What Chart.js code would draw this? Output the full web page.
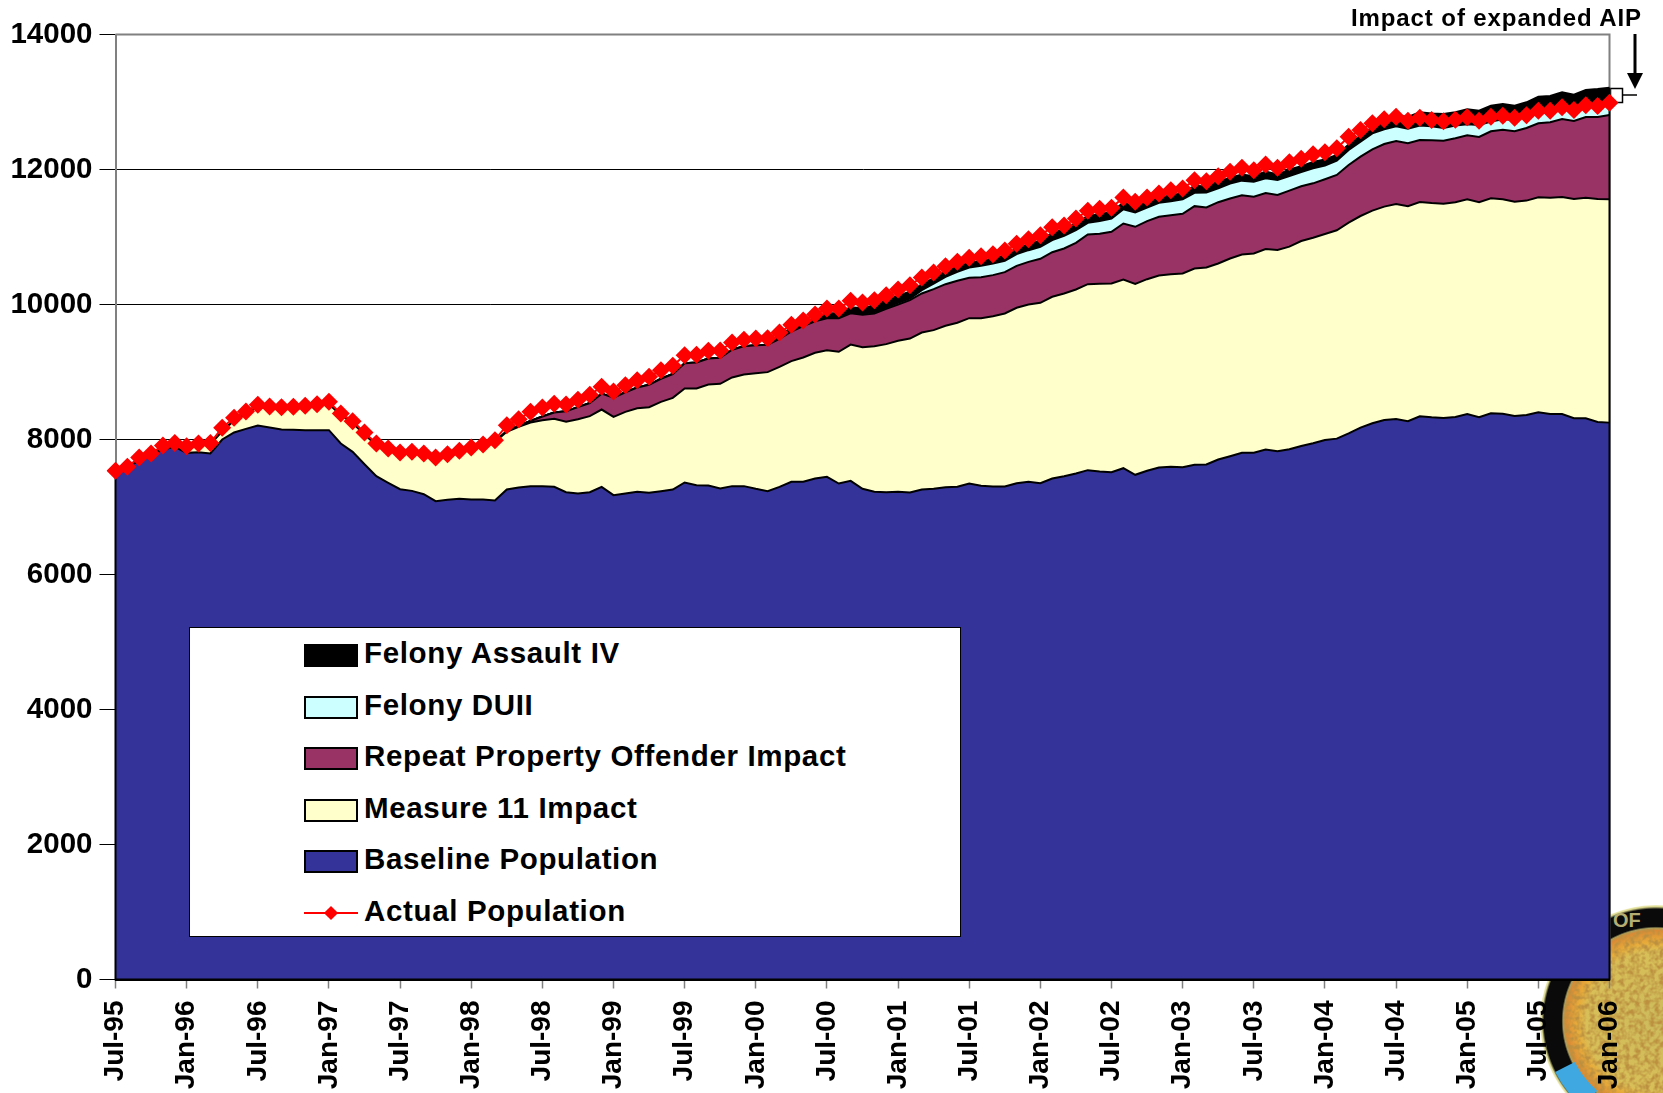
<!DOCTYPE html>
<html>
<head>
<meta charset="utf-8">
<title>Prison population</title>
<script src="https://cdn.jsdelivr.net/npm/chart.js@4"></script>
<style>
  html, body { margin: 0; padding: 0; background: #fff; overflow: hidden; }
  #page { position: relative; width: 1663px; height: 1093px; overflow: hidden;
          font-family: 'Liberation Sans', Arial, sans-serif; font-weight: bold; color: #000; }
  #decor { position: absolute; left: 0; top: 0; }
  #chart { position: absolute; left: 0; top: 0; }
  #note { position: absolute; left: 1351px; top: 5px; font-size: 24px; line-height: 26px;
          letter-spacing: 0.9px; white-space: nowrap; }
  #legend { position: absolute; left: 189px; top: 627px; width: 770px; height: 308px;
            background: #fff; border: 1px solid #000; }
  .row { position: absolute; left: 114px; height: 30px; line-height: 30px; font-size: 29.5px;
         letter-spacing: 0.65px; white-space: nowrap; }
  .swatch { position: absolute; left: 0; top: 5px; width: 50px; height: 19px; border: 2px solid #000; }
  .key-line { position: absolute; left: 0; top: 15px; width: 54px; height: 2px; background: #f00; }
  .key-dot { position: absolute; left: 22px; top: 11px; width: 10px; height: 10px; background: #f00;
             transform: rotate(45deg); }
  .row span { position: absolute; left: 60px; top: -1px; }
</style>
</head>
<body>
<div id="page">
  <!-- seal and the expanded AIP marker sit under the transparent canvas -->
  <svg id="decor" width="1663" height="1093">
    <defs>
      <radialGradient id="sealFill" gradientUnits="userSpaceOnUse" cx="1656" cy="1021" r="116">
        <stop offset="0" stop-color="#cdbb5c"/>
        <stop offset="0.60" stop-color="#d8bf58"/>
        <stop offset="0.68" stop-color="#e8ac3a"/>
        <stop offset="0.78" stop-color="#d98a35"/>
        <stop offset="0.80" stop-color="#a8a060"/>
        <stop offset="0.815" stop-color="#0a0a0a"/>
        <stop offset="0.965" stop-color="#0a0a0a"/>
        <stop offset="0.985" stop-color="#d9d68c"/>
        <stop offset="1" stop-color="#f4f2c8"/>
      </radialGradient>
      <filter id="mottle" x="0" y="0" width="100%" height="100%">
        <feTurbulence type="fractalNoise" baseFrequency="0.2" numOctaves="2" seed="4"/>
        <feColorMatrix type="matrix" values="0 0 0 0 0.5  0 0 0 0 0.28  0 0 0 0 0.05  2.6 0 0 0 -0.95"/>
      </filter>
      <clipPath id="sealInner"><circle cx="1656" cy="1021" r="93"/></clipPath>
    </defs>
    <circle cx="1656" cy="1021" r="116" fill="url(#sealFill)"/>
    <rect x="1540" y="920" width="123" height="173" filter="url(#mottle)" clip-path="url(#sealInner)"/>
    <path d="M 1565 1067 A 102 102 0 0 0 1590 1099" fill="none" stroke="#3fa8e0" stroke-width="22"/>
    <text x="1613" y="927" font-size="20" fill="#b5ad72">OF</text>

    <rect x="1610.5" y="88.5" width="12" height="14" fill="#fff" stroke="#000" stroke-width="1.5"/>
    <line x1="1622" y1="95" x2="1637" y2="95" stroke="#000" stroke-width="1.5"/>
    <line x1="1635" y1="34" x2="1635" y2="76" stroke="#000" stroke-width="3"/>
    <polygon points="1627,73 1643,73 1635,89" fill="#000"/>
  </svg>
  <canvas id="chart" width="1663" height="1093"></canvas>
  <div id="note">Impact of expanded AIP</div>
  <div id="legend"></div>
</div>

<script>
/*
 * Monthly population chart, Jul-95 to Jan-06.
 * The four impact bands are kept as the height of each band's upper edge,
 * the way they read off the picture, and each one fills down to the band below.
 */
const months = [
  'Jul-95','Aug-95','Sep-95','Oct-95','Nov-95','Dec-95',
  'Jan-96','Feb-96','Mar-96','Apr-96','May-96','Jun-96','Jul-96','Aug-96','Sep-96','Oct-96','Nov-96','Dec-96',
  'Jan-97','Feb-97','Mar-97','Apr-97','May-97','Jun-97','Jul-97','Aug-97','Sep-97','Oct-97','Nov-97','Dec-97',
  'Jan-98','Feb-98','Mar-98','Apr-98','May-98','Jun-98','Jul-98','Aug-98','Sep-98','Oct-98','Nov-98','Dec-98',
  'Jan-99','Feb-99','Mar-99','Apr-99','May-99','Jun-99','Jul-99','Aug-99','Sep-99','Oct-99','Nov-99','Dec-99',
  'Jan-00','Feb-00','Mar-00','Apr-00','May-00','Jun-00','Jul-00','Aug-00','Sep-00','Oct-00','Nov-00','Dec-00',
  'Jan-01','Feb-01','Mar-01','Apr-01','May-01','Jun-01','Jul-01','Aug-01','Sep-01','Oct-01','Nov-01','Dec-01',
  'Jan-02','Feb-02','Mar-02','Apr-02','May-02','Jun-02','Jul-02','Aug-02','Sep-02','Oct-02','Nov-02','Dec-02',
  'Jan-03','Feb-03','Mar-03','Apr-03','May-03','Jun-03','Jul-03','Aug-03','Sep-03','Oct-03','Nov-03','Dec-03',
  'Jan-04','Feb-04','Mar-04','Apr-04','May-04','Jun-04','Jul-04','Aug-04','Sep-04','Oct-04','Nov-04','Dec-04',
  'Jan-05','Feb-05','Mar-05','Apr-05','May-05','Jun-05','Jul-05','Aug-05','Sep-05','Oct-05','Nov-05','Dec-05',
  'Jan-06'
];

const actualPopulation = [
  7536,7595,7733,7793,7911,7950,7901,7941,7950,8173,
  8321,8415,8514,8489,8479,8484,8499,8524,8558,8385,
  8272,8104,7941,7867,7807,7817,7793,7733,7783,7832,
  7881,7926,7990,8212,8301,8410,8474,8528,8519,8588,
  8662,8780,8711,8805,8879,8928,9027,9091,9249,9254,
  9314,9319,9437,9477,9496,9501,9585,9699,9763,9852,
  9941,9941,10054,10030,10064,10138,10222,10286,10400,10474,
  10568,10632,10691,10716,10746,10800,10899,10968,11027,11146,
  11170,11274,11388,11417,11432,11585,11521,11585,11644,11694,
  11719,11842,11827,11901,11965,12025,11990,12074,12025,12106,
  12160,12225,12254,12314,12486,12585,12684,12743,12783,12723,
  12768,12733,12714,12738,12773,12723,12783,12798,12768,12802,
  12872,12872,12921,12881,12951,12941,12990
];

const baselinePopulation = [
  7530,7600,7684,7768,7852,7891,7802,7812,7793,8000,
  8104,8158,8207,8178,8148,8143,8138,8138,8138,7941,
  7817,7634,7456,7358,7264,7239,7190,7086,7106,7121,
  7111,7111,7096,7259,7289,7309,7309,7299,7220,7200,
  7220,7299,7175,7200,7225,7210,7235,7259,7363,7324,
  7319,7274,7309,7309,7269,7235,7299,7373,7373,7422,
  7447,7348,7388,7269,7225,7220,7225,7215,7260,7269,
  7294,7299,7348,7314,7304,7304,7353,7373,7353,7422,
  7457,7497,7546,7526,7516,7575,7477,7536,7585,7595,
  7590,7625,7630,7704,7753,7803,7803,7852,7825,7855,
  7904,7944,7993,8013,8092,8176,8240,8289,8304,8270,
  8344,8329,8319,8334,8378,8329,8388,8383,8349,8363,
  8403,8378,8378,8314,8314,8260,8250
];

const measure11Top = [
  7530,7600,7700,7780,7880,7925,7880,7920,7930,8120,
  8280,8380,8480,8460,8450,8455,8470,8495,8525,8360,
  8245,8075,7915,7840,7785,7795,7770,7710,7760,7810,
  7855,7900,7965,8114,8188,8252,8286,8306,8262,8301,
  8346,8444,8336,8410,8464,8479,8558,8617,8756,8756,
  8815,8825,8919,8963,8983,8998,9077,9161,9215,9284,
  9323,9299,9407,9368,9383,9413,9462,9496,9585,9620,
  9684,9729,9798,9798,9827,9867,9951,10000,10025,10114,
  10163,10222,10301,10306,10311,10370,10306,10375,10430,10449,
  10459,10533,10548,10607,10682,10741,10756,10823,10808,10857,
  10941,10990,11045,11099,11213,11311,11390,11450,11489,11455,
  11519,11504,11494,11514,11558,11514,11573,11558,11524,11539,
  11588,11583,11593,11563,11583,11563,11558
];

const repeatPropertyTop = [
  7530,7600,7700,7780,7880,7925,7880,7920,7930,8120,
  8280,8380,8480,8460,8450,8455,8470,8495,8525,8360,
  8245,8075,7915,7840,7785,7795,7770,7710,7760,7810,
  7855,7900,7965,8125,8205,8275,8340,8400,8420,8480,
  8540,8680,8620,8700,8770,8810,8900,8970,9130,9140,
  9200,9210,9330,9380,9395,9405,9490,9600,9680,9750,
  9795,9795,9870,9850,9865,9936,10000,10064,10163,10227,
  10301,10351,10395,10405,10435,10479,10573,10632,10677,10775,
  10830,10914,11037,11047,11077,11200,11151,11235,11299,11323,
  11343,11457,11437,11516,11570,11618,11598,11652,11622,11687,
  11751,11795,11855,11919,12067,12190,12299,12378,12423,12388,
  12437,12432,12427,12462,12506,12482,12566,12590,12566,12615,
  12684,12699,12748,12719,12778,12778,12808
];

const felonyDuiiTop = [
  7530,7600,7700,7780,7880,7925,7880,7920,7930,8120,
  8280,8380,8480,8460,8450,8455,8470,8495,8525,8360,
  8245,8075,7915,7840,7785,7795,7770,7710,7760,7810,
  7855,7900,7965,8125,8205,8275,8340,8400,8420,8480,
  8540,8680,8620,8700,8770,8810,8900,8970,9130,9140,
  9200,9210,9330,9380,9395,9405,9490,9600,9680,9750,
  9797,9797,9880,9865,9885,9956,10025,10089,10212,10311,
  10410,10484,10548,10573,10607,10647,10746,10805,10854,10953,
  11017,11101,11210,11235,11274,11412,11363,11437,11506,11531,
  11560,11654,11659,11723,11793,11835,11820,11869,11845,11904,
  11963,12018,12057,12131,12289,12413,12536,12595,12640,12605,
  12650,12640,12615,12650,12669,12660,12709,12743,12733,12783,
  12832,12852,12892,12882,12931,12941,12961
];

const felonyAssaultTop = [
  7530,7600,7700,7780,7880,7925,7880,7920,7930,8120,
  8280,8380,8480,8460,8450,8455,8470,8495,8525,8360,
  8245,8075,7915,7840,7785,7795,7770,7710,7760,7810,
  7855,7900,7965,8125,8205,8275,8340,8400,8420,8480,
  8540,8680,8620,8700,8770,8810,8900,8970,9130,9140,
  9200,9210,9330,9380,9395,9405,9550,9650,9730,9800,
  9870,9875,9960,9945,9990,10060,10130,10190,10300,10390,
  10490,10560,10620,10650,10680,10730,10830,10890,10950,11060,
  11110,11200,11310,11340,11370,11510,11450,11520,11580,11620,
  11650,11760,11750,11820,11880,11925,11900,11970,11925,12000,
  12050,12110,12150,12215,12370,12500,12630,12730,12800,12780,
  12847,12830,12822,12850,12892,12872,12946,12971,12946,12995,
  13079,13089,13143,13109,13178,13193,13212
];

const BLUE = '#333399';
const YELLOW = '#ffffcc';
const PURPLE = '#993366';
const CYAN = '#ccffff';
const RED = '#ff0000';
const AXIS_GREY = '#808080';
const FONT_FAMILY = "'Liberation Sans', Arial, sans-serif";

function area(label, data, colour, fill) {
  return {
    label: label,
    data: data,
    backgroundColor: colour,
    borderColor: '#000',
    borderWidth: 2,
    pointRadius: 0,
    tension: 0,
    fill: fill
  };
}

// The plot's grey top and right edges, and the black outline Excel gives an area.
const frame = {
  id: 'frame',
  beforeDatasetsDraw: function (chart) {
    const a = chart.chartArea;
    const ctx = chart.ctx;
    ctx.save();
    ctx.strokeStyle = AXIS_GREY;
    ctx.lineWidth = 2;
    ctx.beginPath();
    ctx.moveTo(a.right, a.bottom);
    ctx.lineTo(a.right, a.top);
    ctx.lineTo(a.left, a.top);
    ctx.stroke();
    ctx.restore();
  },
  afterDatasetDraw: function (chart, args) {
    if (args.index !== 0) {
      return;
    }
    const a = chart.chartArea;
    const y = chart.scales.y;
    const last = felonyAssaultTop.length - 1;
    const ctx = chart.ctx;
    ctx.save();
    ctx.strokeStyle = '#000';
    ctx.lineWidth = 2;
    ctx.beginPath();
    ctx.moveTo(a.left, y.getPixelForValue(felonyAssaultTop[0]));
    ctx.lineTo(a.left, a.bottom);
    ctx.lineTo(a.right, a.bottom);
    ctx.lineTo(a.right, y.getPixelForValue(felonyAssaultTop[last]));
    ctx.stroke();
    ctx.restore();
  }
};

new Chart(document.getElementById('chart'), {
  type: 'line',
  data: {
    labels: months,
    datasets: [
      area('Baseline Population', baselinePopulation, BLUE, 'origin'),
      area('Measure 11 Impact', measure11Top, YELLOW, '-1'),
      area('Repeat Property Offender Impact', repeatPropertyTop, PURPLE, '-1'),
      area('Felony DUII', felonyDuiiTop, CYAN, '-1'),
      area('Felony Assault IV', felonyAssaultTop, '#000', '-1'),
      {
        label: 'Actual Population',
        data: actualPopulation,
        order: -1,
        borderColor: RED,
        backgroundColor: RED,
        borderWidth: 2,
        pointStyle: 'rectRot',
        pointRadius: 9,
        pointBorderWidth: 0,
        tension: 0,
        fill: false
      }
    ]
  },
  plugins: [frame],
  options: {
    responsive: false,
    animation: false,
    layout: { padding: { top: 34.5, right: 53.5, left: 0, bottom: 0 } },
    plugins: {
      legend: { display: false }
    },
    scales: {
      x: {
        offset: false,
        afterFit: function (scale) { scale.height = 113.5; },
        afterBuildTicks: function (scale) {
          scale.ticks = scale.ticks.filter(function (t) { return t.value % 6 === 0; });
        },
        grid: {
          drawOnChartArea: false,
          tickLength: 9,
          tickColor: AXIS_GREY,
          tickWidth: 1.5
        },
        border: { color: '#000', width: 2 },
        ticks: {
          autoSkip: false,
          minRotation: 90,
          maxRotation: 90,
          padding: 12,
          color: '#000',
          font: { family: FONT_FAMILY, size: 28, weight: 'bold' }
        }
      },
      y: {
        min: 0,
        max: 14000,
        afterFit: function (scale) { scale.width = 115.5; },
        grid: {
          color: function (c) { return c.tick.value === 14000 ? AXIS_GREY : '#000'; },
          lineWidth: 1,
          tickLength: 16,
          tickColor: '#000'
        },
        border: { color: AXIS_GREY, width: 2 },
        ticks: {
          stepSize: 2000,
          padding: 7,
          color: '#000',
          font: { family: FONT_FAMILY, size: 29.5, weight: 'bold' },
          callback: function (value) { return String(value); }
        }
      }
    }
  }
});

// Legend box, built by hand because it sits inside the plot.
const legendNames = ['Felony Assault IV', 'Felony DUII', 'Repeat Property Offender Impact',
  'Measure 11 Impact', 'Baseline Population', 'Actual Population'];
const legendColours = ['#000', CYAN, PURPLE, YELLOW, BLUE, RED];
const legendBox = document.getElementById('legend');
legendNames.forEach(function (name, i) {
  const row = document.createElement('div');
  row.className = 'row';
  row.style.top = (11 + i * 51.6) + 'px';
  if (name === 'Actual Population') {
    row.innerHTML = '<div class="key-line"></div><div class="key-dot"></div><span>' + name + '</span>';
  } else {
    row.innerHTML = '<div class="swatch" style="background:' + legendColours[i] + '"></div><span>' + name + '</span>';
  }
  legendBox.appendChild(row);
});
</script>
</body>
</html>
